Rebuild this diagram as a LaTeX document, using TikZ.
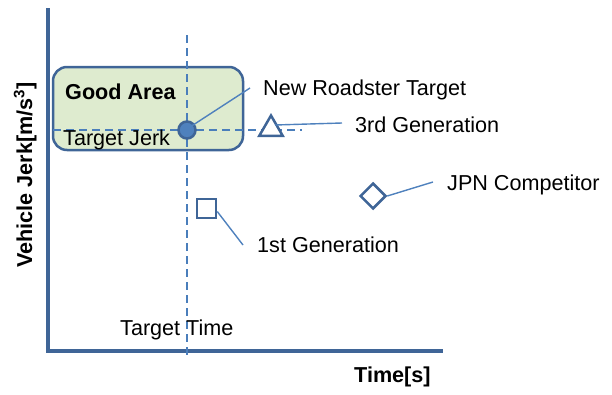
\documentclass[tikz,border=0pt]{standalone}
\usepackage{fontspec}
\setmainfont{Liberation Sans}
\usetikzlibrary{shapes.geometric}
\definecolor{axisblue}{HTML}{3F6597}
\definecolor{dashblue}{HTML}{4A7EBB}
\definecolor{leadblue}{HTML}{4F81BD}
\definecolor{areagreen}{HTML}{DEEBCF}
\definecolor{dotblue}{HTML}{4F81BD}
\tikzset{
  axisline/.style={draw=axisblue, line width=3.2pt},
  guide/.style={draw=dashblue, line width=2.8pt, dash pattern=on 8pt off 5pt},
  leader/.style={draw=leadblue, line width=1.4pt},
  marker/.style={draw=axisblue, line width=2.5pt, fill=white, inner sep=0pt},
  lbl/.style={anchor=base west, inner sep=0pt, font=\fontsize{21.6}{26}\selectfont},
  boldlbl/.style={lbl, font=\fontsize{21.6}{26}\selectfont\bfseries},
}
\begin{document}
\begin{tikzpicture}[x=1pt, y=-1pt]
\useasboundingbox (0,0) rectangle (612,394);
% good area box
\node[draw=axisblue, line width=2.5pt, fill=areagreen, rounded corners=14pt,
      minimum width=190pt, minimum height=83pt, inner sep=0pt] (area) at (148,108.5) {};
% axes
\coordinate (origin) at (48,351);
\coordinate (ytop) at (48,8);
\coordinate (xend) at (443,351);
\draw[axisline] (ytop) -- (origin) -- (xend);
% target guides
\coordinate (tt top) at (187,35);
\coordinate (tt bot) at (187,357);
\coordinate (tj left) at (53,130);
\coordinate (tj right) at (302,130);
\draw[guide] (tt top) -- (tt bot);
\draw[guide] (tj left) -- (tj right);
% labels inside the plot
\node[boldlbl] (good) at (65,99) {Good Area};
\node[lbl] (tjerk) at (63,145) {Target Jerk};
\node[lbl] (ttime) at (120,335) {Target Time};
% markers
\node[marker, circle, fill=dotblue, minimum size=17pt] (roadster) at (187,130) {};
\node[marker, regular polygon, regular polygon sides=3, minimum size=27pt] (third) at (271,129) {};
\node[marker, rectangle, minimum size=19pt] (first) at (206.5,208.5) {};
\node[marker, diamond, minimum width=26pt, minimum height=26pt] (jpn) at (373,196) {};
% callout labels
\node[lbl] (lroad) at (263,95.5) {New Roadster Target};
\node[lbl] (lthird) at (355,132) {3rd Generation};
\node[lbl] (ljpn) at (447,190) {JPN Competitor};
\node[lbl] (lfirst) at (257,252) {1st Generation};
% leader lines
\coordinate (eroad) at (250,88);
\coordinate (ethird) at (342,123);
\coordinate (ejpn) at (433,182);
\coordinate (efirst) at (243,245);
\draw[leader] (roadster.center) ++(3,-3) -- (eroad);
\draw[leader] (third.center) ++(4,-4) -- (ethird);
\draw[leader] (jpn.east) -- (ejpn);
\draw[leader] (first.east) ++(0,3) -- (efirst);
% axis titles
\node[boldlbl] (xtitle) at (354,382) {Time[s]};
\node[boldlbl, rotate=90] (ytitle) at (32,268) {Vehicle Jerk[m/s\textsuperscript{3}]};
\end{tikzpicture}
\end{document}
